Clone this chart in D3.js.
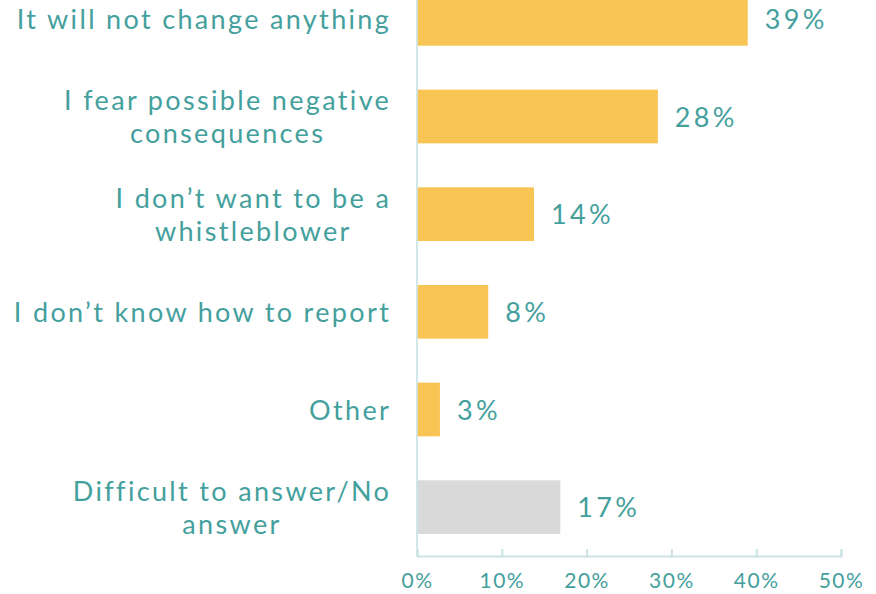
<!DOCTYPE html>
<html>
<head>
<meta charset="utf-8">
<script src="https://cdn.jsdelivr.net/npm/d3@7"></script>
<style>
  html, body { margin: 0; padding: 0; background: #ffffff; }
  svg { display: block; }
  text { font-family: Lato, "Noto Sans", sans-serif; font-weight: 400; }
</style>
</head>
<body>
<script>
const categories = [
  ["It will not change anything"],
  ["I fear possible negative", "consequences"],
  ["I don\u2019t want to be a", "whistleblower"],
  ["I don\u2019t know how to report"],
  ["Other"],
  ["Difficult to answer/No", "answer"]
];
const values = [39, 28.4, 13.8, 8.4, 2.7, 16.9];
const valueLabels = ["39%", "28%", "14%", "8%", "3%", "17%"];
const barColors = ["#f8c454", "#f8c454", "#f8c454", "#f8c454", "#f8c454", "#d9d9d9"];
const xTicks = [0, 10, 20, 30, 40, 50];

const W = 876, H = 594;
const textColor = "#44a09d";
const axisColor = "#cbe3e3";

const svg = d3.select("body").append("svg").attr("width", W).attr("height", H);

const x = d3.scaleLinear().domain([0, 50]).range([417, 841]);
const y = d3.scaleBand().domain(d3.range(categories.length)).range([-30, 556])
  .paddingInner(0.45).paddingOuter(0.225);

// bars
svg.append("g").selectAll("rect").data(values).join("rect")
  .attr("x", x(0))
  .attr("y", (d, i) => y(i))
  .attr("width", d => x(d) - x(0))
  .attr("height", y.bandwidth())
  .attr("fill", (d, i) => barColors[i]);

// vertical axis line
svg.append("line")
  .attr("x1", x(0)).attr("x2", x(0))
  .attr("y1", -30).attr("y2", 556)
  .attr("stroke", axisColor).attr("stroke-width", 2).attr("opacity", 0.85);

// bottom axis
const xAxis = d3.axisBottom(x).tickValues(xTicks).tickFormat(d => d + "%")
  .tickSizeInner(-7).tickSizeOuter(-7).tickPadding(17);
const gx = svg.append("g").attr("transform", "translate(0,556)").call(xAxis);
gx.select(".domain").attr("stroke", axisColor).attr("stroke-width", 2);
gx.selectAll(".tick text").attr("fill", textColor)
  .style("font-family", "Lato, 'Noto Sans', sans-serif")
  .style("font-size", "21px").style("letter-spacing", "1.5px");
gx.selectAll(".tick line").attr("stroke", axisColor).attr("stroke-width", 2);

// label font sizing: fit the widest single-line label to the reference width
const catFont = 27;
const probe = svg.append("text").style("font-size", catFont + "px").text(categories[0][0]);
const probeW = probe.node().getComputedTextLength();
probe.remove();
const catLS = Math.max(0, (372 - probeW) / (categories[0][0].length - 1));

// value labels
svg.append("g").selectAll("text").data(values).join("text")
  .attr("x", d => x(d) + 17)
  .attr("y", (d, i) => y(i) + y.bandwidth() / 2 + 10)
  .attr("fill", textColor)
  .style("font-size", "27px")
  .style("letter-spacing", (catLS + 1) + "px")
  .text((d, i) => valueLabels[i]);

// category labels (one text per category, one tspan per line, lines centred)
const rightEdge = 390;
const lineH = 33;
const catG = svg.append("g");
categories.forEach((lines, i) => {
  const cy = y(i) + y.bandwidth() / 2;
  const t = catG.append("text")
    .attr("fill", textColor)
    .style("font-size", catFont + "px")
    .style("letter-spacing", catLS + "px")
    .attr("text-anchor", "middle");
  const spans = lines.map((ln, j) => t.append("tspan")
    .attr("y", cy + 10 + (j - (lines.length - 1) / 2) * lineH)
    .text(ln));
  const maxW = d3.max(spans, s => s.node().getComputedTextLength());
  spans.forEach(s => s.attr("x", rightEdge - maxW / 2 + catLS / 2));
});
</script>
</body>
</html>
